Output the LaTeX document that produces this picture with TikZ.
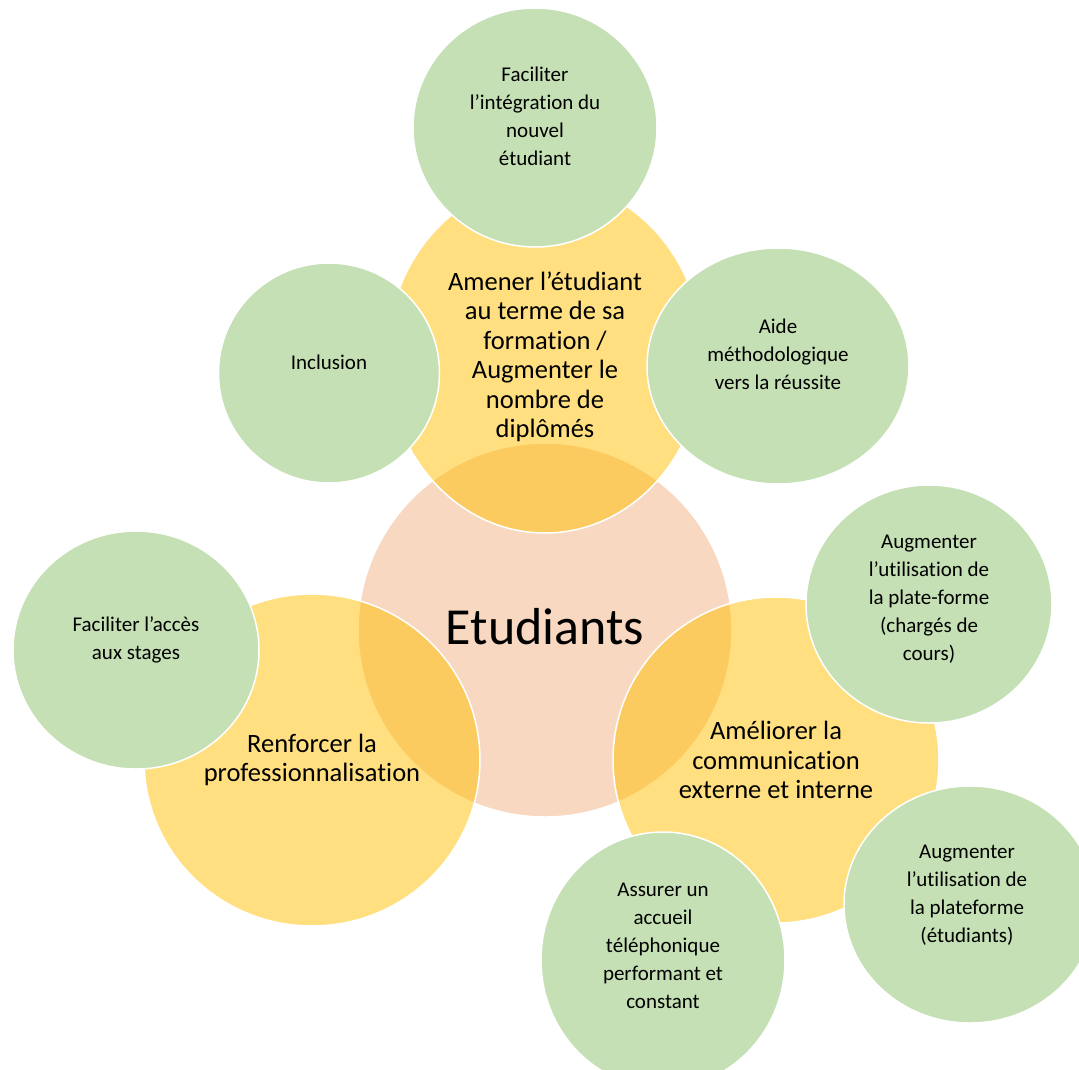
\documentclass[tikz,border=0pt]{standalone}
\usepackage{fontspec}
\setmainfont{Carlito}[Ligatures={NoCommon}]
\usetikzlibrary{shapes.geometric}
\definecolor{peachc}{HTML}{F8D8C1}
\definecolor{yel}{HTML}{FFC000}
\definecolor{grn}{HTML}{C5E0B4}
\begin{document}
\begin{tikzpicture}[x=1pt,y=-1pt,
  blob/.style={ellipse, inner sep=0pt, outer sep=0pt, draw=white, line width=1.5pt},
  peachblob/.style={blob, fill=peachc},
  yellowblob/.style={blob, fill=yel, fill opacity=0.5, draw opacity=1},
  greenblob/.style={blob, fill=grn},
  gtxt/.style={align=center, inner sep=0pt, font=\fontsize{21}{28}\selectfont},
  ytxt/.style={align=center, inner sep=0pt, font=\fontsize{26.5}{29.5}\selectfont},
  ctxt/.style={align=center, inner sep=0pt, font=\fontsize{52}{60}\selectfont}]
\useasboundingbox (0,0) rectangle (1079,1069);
\clip (0,0) rectangle (1079,1069);
% centre
\node[peachblob, minimum width=374pt, minimum height=374pt] (center) at (545,630) {};
% yellow
\node[yellowblob, minimum width=316pt, minimum height=352pt] (ytop) at (545,357) {};
\node[yellowblob, minimum width=336pt, minimum height=332pt] (yleft) at (312,760) {};
\node[yellowblob, minimum width=326pt, minimum height=326pt] (yright) at (776,760) {};
% green
\node[greenblob, minimum width=244pt, minimum height=239pt] (gtop) at (535,127.5) {};
\node[greenblob, minimum width=221pt, minimum height=220pt] (gincl) at (329,373) {};
\node[greenblob, minimum width=262pt, minimum height=236pt] (gaide) at (778,366) {};
\node[greenblob, minimum width=246pt, minimum height=238pt] (gcharg) at (929,604) {};
\node[greenblob, minimum width=252pt, minimum height=237pt] (getud) at (970,904.5) {};
\node[greenblob, minimum width=244pt, minimum height=256pt] (gassur) at (663,960) {};
\node[greenblob, minimum width=246pt, minimum height=238pt] (gacces) at (136,650) {};
% texts
\node[ctxt] (tcenter) at (545,627) {Etudiants};
\node[ytxt] (tytop) at (545,357) {Amener l’étudiant\\au terme de sa\\formation /\\Augmenter le\\nombre de\\diplômés};
\node[ytxt] (tyleft) at (312,760) {Renforcer la\\professionnalisation};
\node[ytxt] (tyright) at (776,760) {Améliorer la\\communication\\externe et interne};
\node[gtxt] (tgtop) at (535,116.5) {Faciliter\\l’intégration du\\nouvel\\étudiant};
\node[gtxt] (tgincl) at (329,362) {Inclusion};
\node[gtxt] (tgaide) at (778,354) {Aide\\méthodologique\\vers la réussite};
\node[gtxt] (tgcharg) at (929,599) {Augmenter\\l’utilisation de\\la plate-forme\\(chargés de\\cours)};
\node[gtxt] (tgetud) at (967,895) {Augmenter\\l’utilisation de\\la plateforme\\(étudiants)};
\node[gtxt] (tgassur) at (663,946) {Assurer un\\accueil\\téléphonique\\performant et\\constant};
\node[gtxt] (tgacces) at (136,640) {Faciliter l’accès\\aux stages};
\end{tikzpicture}
\end{document}
